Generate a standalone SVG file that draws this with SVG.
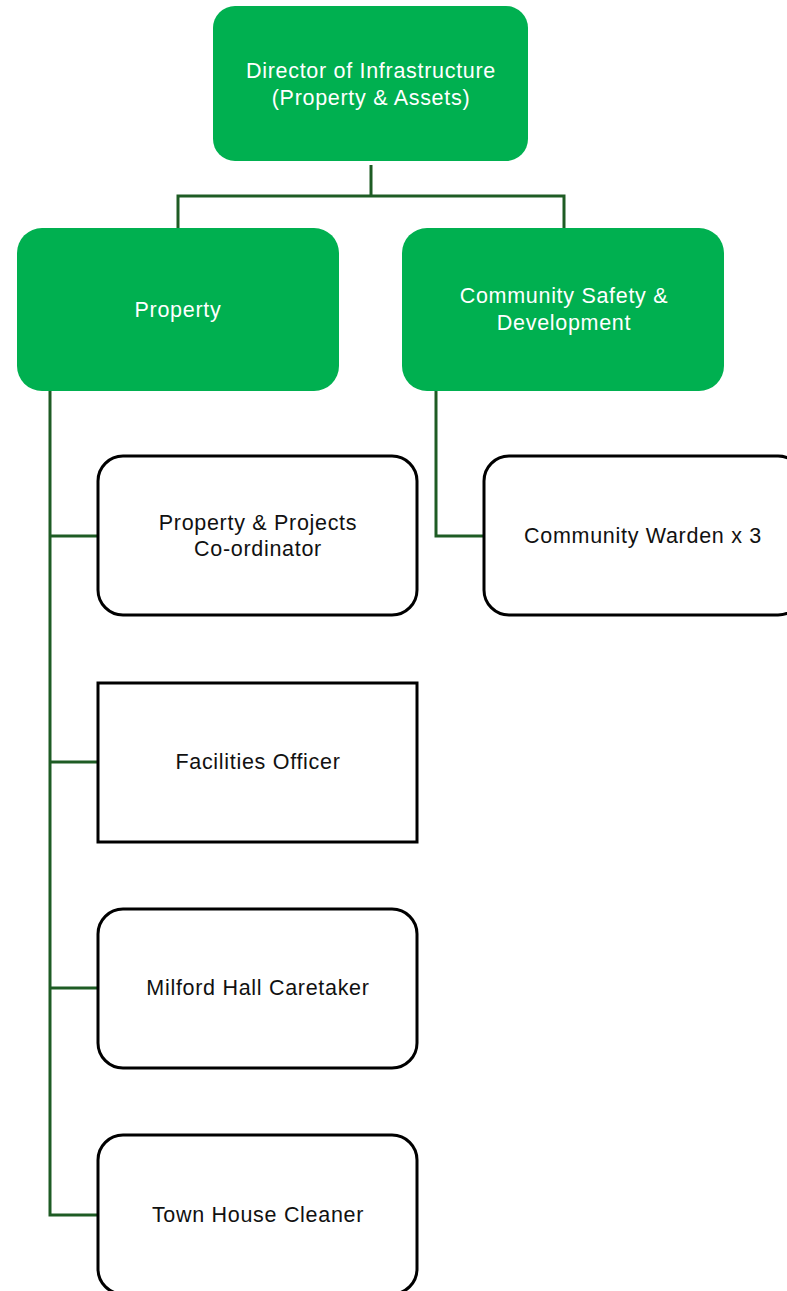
<svg xmlns="http://www.w3.org/2000/svg" width="787" height="1291" viewBox="0 0 787 1291">
<style>
.g{fill:#00b050}
.w{fill:#fff;stroke:#000;stroke-width:3}
.c{fill:none;stroke:#1e5c24;stroke-width:3}
.tw,.tb{font-family:"Liberation Sans",Arial,sans-serif;font-size:21.5px;letter-spacing:0.7px;text-anchor:middle}
.tw{fill:#fff}
.tb{fill:#111}
</style>
<rect width="787" height="1291" fill="#fff"/>
<g id="connectors">
<path class="c" d="M371 165V196M178 228V196H564V228"/>
<path class="c" d="M50 391V1215H98M50 536H98M50 762H98M50 988H98"/>
<path class="c" d="M436 391V536H484"/>
</g>
<g id="director">
<rect class="g" x="213" y="6" width="315" height="155" rx="22"/>
<text class="tw" x="371" y="78">Director of Infrastructure</text>
<text class="tw" x="371" y="105">(Property &amp; Assets)</text>
</g>
<g id="property">
<rect class="g" x="17" y="228" width="322" height="163" rx="25"/>
<text class="tw" x="178" y="317">Property</text>
</g>
<g id="community-safety">
<rect class="g" x="402" y="228" width="322" height="163" rx="25"/>
<text class="tw" x="564" y="303">Community Safety &amp;</text>
<text class="tw" x="564" y="330">Development</text>
</g>
<g id="projects-coordinator">
<rect class="w" x="98" y="456" width="319" height="159" rx="25"/>
<text class="tb" x="258" y="530">Property &amp; Projects</text>
<text class="tb" x="258" y="556">Co-ordinator</text>
</g>
<g id="community-warden">
<rect class="w" x="484" y="456" width="319" height="159" rx="25"/>
<text class="tb" x="643" y="543">Community Warden x 3</text>
</g>
<g id="facilities-officer">
<rect class="w" x="98" y="683" width="319" height="159"/>
<text class="tb" x="258" y="769">Facilities Officer</text>
</g>
<g id="milford-caretaker">
<rect class="w" x="98" y="909" width="319" height="159" rx="25"/>
<text class="tb" x="258" y="995">Milford Hall Caretaker</text>
</g>
<g id="town-house-cleaner">
<rect class="w" x="98" y="1135" width="319" height="159" rx="25"/>
<text class="tb" x="258" y="1222">Town House Cleaner</text>
</g>
</svg>
